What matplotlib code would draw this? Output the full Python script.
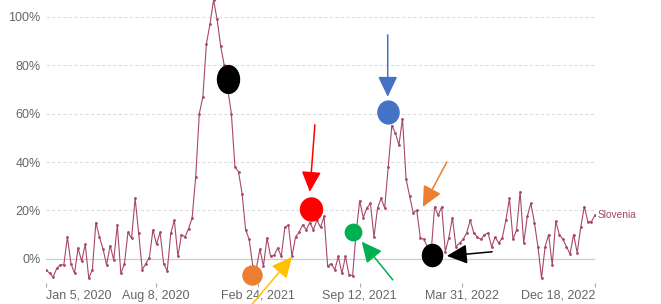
import matplotlib
matplotlib.use("Agg")
import matplotlib.pyplot as plt
from matplotlib.markers import MarkerStyle
from matplotlib.transforms import Affine2D
import pandas as pd

# weekly excess mortality, Slovenia (%)
weeks = pd.date_range("2020-01-05", "2022-12-18", freq="7D")
excess = [
    -4.5, -6, -7.5, -4, -2.5, -2.5, 9, -2, -6, 4.5,
    -1, 6, -8, -4.5, 15, 9, 4, -2.5, 5.5, -0.5,
    14, -6, -2, 11, 8.5, 25, 10.5, -4.5, -2, 0.5,
    12, 6, 11, -2, -5, 10.5, 16, 1, 10, 9,
    12.5, 17, 34, 60, 67, 89, 97, 107,
    99, 88, 80, 70, 60, 38, 36, 27, 12, 8,
    -3, -4, 4, -3, 8.7, 1, 1.5, 4.5, 1, 13, 14, 1,
    9, 11, 14, 12, 15, 12, 16, 13, 17.5, -3,
    -2, -4.5, 1, -6, 1, -6.5, -7,
    11, 24, 17, 21, 23, 9, 21, 25, 21, 38,
    55, 52, 47, 58, 33, 26, 19, 20, 8.7, 8, 5, 2,
    21.5, 18, 21.5, 3, 8.7, 17, 5, 6.5, 8, 10.7,
    16, 10.7, 9, 8, 10, 10.7, 5, 9, 6.5, 8.7,
    16, 25, 8, 12, 27.7, 6.5, 17.5, 23, 15,
    5, -8, 5, 10, -2.5, 15.5, 10, 8, 5, 2,
    10, 2.5, 13, 21.6, 15.4, 15.4, 18,
]
country = "Slovenia"
yticks = [0, 20, 40, 60, 80, 100]
xtick_dates = ["2020-01-05", "2020-08-08", "2021-02-24", "2021-09-12", "2022-03-31", "2022-12-18"]
xtick_labels = ["Jan 5, 2020", "Aug 8, 2020", "Feb 24, 2021", "Sep 12, 2021", "Mar 31, 2022", "Dec 18, 2022"]

# highlighted points: date, value, colour, size (pt), vertical stretch
circles = [
    ("2020-12-27", 74.4, "black", 15.8, 1.27),
    ("2021-02-12", -6.6, "#ed7d31", 13.7, 1.0),
    ("2021-06-08", 20.7, "#ff0000", 15.8, 1.05),
    ("2021-08-30", 11.2, "#00b050", 11.8, 1.0),
    ("2021-11-06", 60.7, "#4472c4", 15.2, 1.08),
    ("2022-01-31", 1.6, "black", 14.5, 1.1),
]
# arrows: tail date, tail value, tip date, tip value, colour
arrows = [
    ("2021-02-06", -20.5, "2021-05-02", 0.8, "#ffc000"),
    ("2021-06-16", 55.4, "2021-06-06", 27.7, "#ff0000"),
    ("2021-11-16", -8.7, "2021-09-16", 7.1, "#00b050"),
    ("2021-11-06", 92.6, "2021-11-06", 67.0, "#4472c4"),
    ("2022-03-02", 40.0, "2022-01-14", 21.5, "#ed7d31"),
    ("2022-05-30", 2.9, "2022-03-02", 1.2, "black"),
]

line_color = "#a8476a"
grey = "#666666"

fig = plt.figure(figsize=(6.61, 3.04), dpi=100)
ax = fig.add_axes([46 / 661, 21 / 304, 549 / 661, 283 / 304])

for y in yticks:
    if y == 0:
        ax.axhline(y, color="#cccccc", lw=0.9, zorder=1)
    else:
        ax.axhline(y, color="#dddddd", lw=0.8, ls=(0, (3, 2)), zorder=1)

ax.plot(weeks, excess, color=line_color, lw=0.8, marker="o", ms=1.0, zorder=3)
ax.text(weeks[-1] + pd.Timedelta(days=6), excess[-1], country, color=line_color,
        fontsize=7.3, family="Liberation Sans", va="center", ha="left")

ax.set_xlim(weeks[0], weeks[-1])
ax.set_ylim(-10, 107)
ax.set_yticks(yticks)
ax.set_yticklabels([f"{y}%" for y in yticks])
ax.set_xticks(pd.to_datetime(xtick_dates))
ax.set_xticklabels(xtick_labels)
for i, lab in enumerate(ax.get_xticklabels()):
    if i == 0:
        lab.set_ha("left")
    elif i == len(xtick_labels) - 1:
        lab.set_ha("right")
ax.tick_params(axis="y", length=0, pad=4, labelsize=9, labelcolor=grey)
ax.tick_params(axis="x", length=3, width=0.8, color="#aaaaaa", pad=2, labelsize=9, labelcolor=grey)
for lab in ax.get_xticklabels() + ax.get_yticklabels():
    lab.set_family("Liberation Sans")
for s in ax.spines.values():
    s.set_visible(False)

for d, v, c, size, stretch in circles:
    m = MarkerStyle("o", transform=Affine2D().scale(1, stretch))
    ax.plot(pd.Timestamp(d), v, marker=m, ms=size, color=c, mec=c, zorder=5, clip_on=False)

for d0, v0, d1, v1, c in arrows:
    ax.annotate("", xy=(pd.Timestamp(d1), v1), xytext=(pd.Timestamp(d0), v0),
                arrowprops=dict(arrowstyle="-|>,head_width=0.6,head_length=1.25",
                                color=c, lw=1.1, mutation_scale=10, shrinkA=0, shrinkB=0),
                annotation_clip=False, zorder=6)

fig.savefig("out.png", dpi=100)
